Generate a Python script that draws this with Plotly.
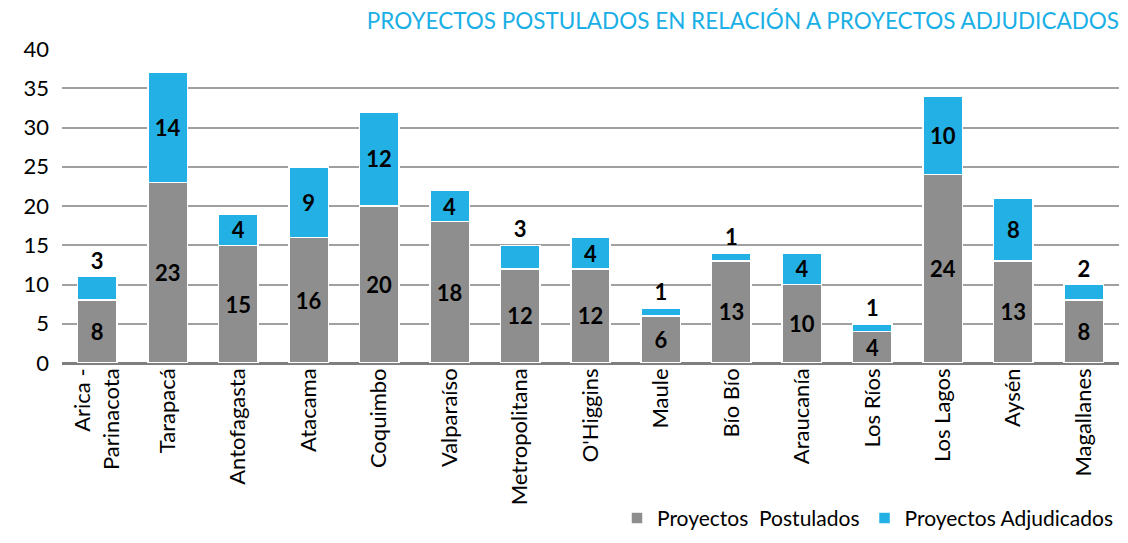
import plotly.graph_objects as go

categories = ["Arica -<br>Parinacota", "Tarapacá", "Antofagasta", "Atacama", "Coquimbo",
              "Valparaíso", "Metropolitana", "O'Higgins", "Maule", "Bío Bío",
              "Araucanía", "Los Ríos", "Los Lagos", "Aysén", "Magallanes"]
postulados = [8, 23, 15, 16, 20, 18, 12, 12, 6, 13, 10, 4, 24, 13, 8]
adjudicados = [3, 14, 4, 9, 12, 4, 3, 4, 1, 1, 4, 1, 10, 8, 2]
y_ticks = [0, 5, 10, 15, 20, 25, 30, 35, 40]

FONT = "Lato"
GRAY = "#8e8e8e"
BLUE = "#22b0e5"

blue_pos = ["inside" if v >= 4 else "outside" for v in adjudicados]

fig = go.Figure()
fig.add_trace(go.Bar(
    x=categories, y=postulados, name="Proyectos  Postulados",
    marker=dict(color=GRAY, line=dict(color="white", width=1.5)),
    text=[str(v) for v in postulados], textposition="inside",
    insidetextanchor="middle", textangle=0, constraintext="none",
    textfont=dict(family=FONT, size=22, color="black", weight="bold"),
))
fig.add_trace(go.Bar(
    x=categories, y=adjudicados, name="Proyectos Adjudicados",
    marker=dict(color=BLUE, line=dict(color="white", width=1.5)),
    text=[str(v) for v in adjudicados], textposition=blue_pos,
    insidetextanchor="middle", textangle=0, constraintext="none",
    textfont=dict(family=FONT, size=22, color="black", weight="bold"),
    cliponaxis=False,
))

fig.update_layout(
    width=1112, height=527,
    barmode="stack", bargap=0.44,
    plot_bgcolor="white", paper_bgcolor="white",
    margin=dict(l=54, r=1, t=41, b=172, autoexpand=False),
    font=dict(family=FONT, color="black"),
    title=dict(text="PROYECTOS POSTULADOS EN RELACIÓN A PROYECTOS ADJUDICADOS",
               font=dict(family=FONT, size=22.5, color="#1aafe6"),
               x=1, xanchor="right", y=0.975, yanchor="middle", xref="paper"),
    legend=dict(orientation="h", x=1, xanchor="right", y=-0.495, yanchor="middle",
                font=dict(family=FONT, size=21, color="black"),
                traceorder="normal"),
    xaxis=dict(tickangle=-90, tickfont=dict(family=FONT, size=22, color="black"),
               showgrid=False, showline=False, ticks=""),
    yaxis=dict(range=[0, 40], tickvals=y_ticks, showgrid=True, gridcolor="#a0a0a0",
               gridwidth=1.5, tickfont=dict(family=FONT, size=22, color="black"),
               zeroline=True, zerolinecolor="#7f7f7f", zerolinewidth=2.5,
               ticks="", ticklabelstandoff=12),
)
fig.write_html("out.html")
